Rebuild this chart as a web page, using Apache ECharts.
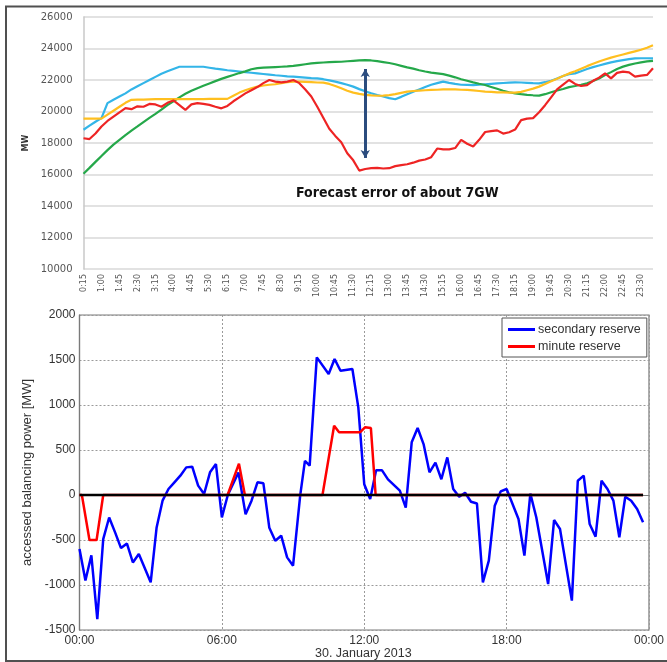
<!DOCTYPE html>
<html>
<head>
<meta charset="utf-8">
<script src="https://cdn.jsdelivr.net/npm/echarts@6/dist/echarts.min.js"></script>
<style>
html,body{margin:0;padding:0;background:#fff;}
#chart{width:667px;height:662px;}
</style>
</head>
<body>
<div id="chart"></div>
<script>
// ---------- Top panel: quarter-hour categories ----------
const topCategories = [
"0:15","0:30","0:45","1:00","1:15","1:30","1:45","2:00","2:15","2:30","2:45","3:00",
"3:15","3:30","3:45","4:00","4:15","4:30","4:45","5:00","5:15","5:30","5:45","6:00",
"6:15","6:30","6:45","7:00","7:15","7:30","7:45","8:00","8:15","8:30","8:45","9:00",
"9:15","9:30","9:45","10:00","10:15","10:30","10:45","11:00","11:15","11:30","11:45","12:00",
"12:15","12:30","12:45","13:00","13:15","13:30","13:45","14:00","14:15","14:30","14:45","15:00",
"15:15","15:30","15:45","16:00","16:15","16:30","16:45","17:00","17:15","17:30","17:45","18:00",
"18:15","18:30","18:45","19:00","19:15","19:30","19:45","20:00","20:15","20:30","20:45","21:00",
"21:15","21:30","21:45","22:00","22:15","22:30","22:45","23:00","23:15","23:30","23:45","24:00"];

const redLine = [
18300,18250,18600,19050,19400,19680,19950,20210,20150,20330,20300,20480,
20450,20300,20550,20700,20400,20100,20450,20530,20480,20420,20300,20200,
20350,20650,20900,21150,21350,21550,21800,22000,21900,21850,21900,22000,
21800,21400,20950,20300,19600,18900,18450,18050,17350,16900,16250,16350,
16400,16420,16380,16400,16530,16600,16650,16750,16880,16950,17100,17650,
17600,17600,17680,18200,17950,17780,18200,18700,18750,18800,18600,18680,
18850,19450,19550,19580,19950,20400,20900,21400,21700,22000,21750,21620,
21680,21950,22150,22420,22100,22450,22530,22480,22210,22280,22320,22740];

const cyanLine = [
18840,19100,19350,19580,20530,20750,20950,21150,21400,21600,21800,22000,
22200,22400,22550,22700,22840,22840,22840,22840,22840,22780,22720,22670,
22620,22580,22540,22500,22460,22420,22380,22340,22300,22270,22230,22210,
22180,22150,22120,22100,22050,21980,21900,21800,21700,21580,21420,21280,
21160,21050,20950,20850,20780,20930,21100,21250,21400,21550,21700,21800,
21900,21820,21750,21700,21690,21680,21700,21730,21760,21790,21810,21830,
21850,21840,21820,21800,21790,21860,21950,22100,22250,22370,22420,22560,
22700,22820,22920,23020,23120,23200,23260,23320,23370,23380,23380,23370];

const yellowLine = [
19550,19550,19550,19550,19800,20050,20300,20550,20740,20750,20760,20770,
20780,20780,20780,20780,20780,20780,20780,20790,20790,20800,20800,20800,
20800,21000,21200,21350,21480,21580,21650,21700,21730,21800,21870,21900,
21900,21880,21860,21840,21830,21750,21620,21470,21320,21200,21120,21060,
21020,21000,21010,21040,21100,21180,21260,21300,21330,21350,21370,21380,
21400,21410,21410,21380,21370,21340,21300,21260,21240,21220,21210,21200,
21200,21250,21350,21450,21580,21740,21920,22080,22250,22420,22560,22720,
22880,23030,23170,23300,23420,23520,23620,23720,23820,23920,24050,24200];

const greenLine = [
16050,16420,16800,17180,17550,17900,18200,18500,18780,19050,19330,19600,
19850,20120,20400,20650,20900,21130,21320,21480,21630,21780,21930,22070,
22200,22320,22440,22550,22680,22750,22780,22800,22820,22840,22860,22900,
22950,23000,23050,23090,23110,23130,23150,23160,23190,23220,23250,23260,
23240,23200,23140,23080,23000,22900,22800,22720,22620,22540,22470,22420,
22370,22280,22170,22050,21950,21850,21760,21680,21560,21440,21320,21220,
21150,21100,21060,21030,21010,21100,21220,21330,21430,21550,21620,21700,
21790,21940,22100,22320,22500,22700,22850,22960,23050,23120,23180,23220];

const arrowCategory = "12:00";
const arrowFrom = 22700;
const arrowTo = 17050;
const annotationText = "Forecast error of about 7GW";

// ---------- Bottom panel: hours of the day ----------
const blueTimes = [0,0.25,0.5,0.75,1,1.25,1.5,1.75,2,2.25,2.5,3,3.25,3.5,3.75,4,4.25,4.5,4.75,5,
5.25,5.5,5.75,6,6.25,6.7,7,7.25,7.5,7.75,8,8.25,8.5,8.75,9,9.3,9.5,9.7,10,10.5,10.75,11,11.5,11.75,
12,12.25,12.5,12.75,13,13.5,13.75,14,14.25,14.5,14.75,15,15.25,15.5,15.75,16,16.25,16.5,16.75,17,
17.25,17.5,17.75,18,18.5,18.75,19,19.25,19.75,20,20.25,20.75,21,21.25,21.5,21.75,22,22.25,22.5,
22.75,23,23.25,23.5,23.75];
const blueValues = [-600,-950,-670,-1380,-490,-250,-415,-590,-540,-750,-656,-970,-360,-63,67,141,215,307,315,104,
11,252,344,-248,0,250,-215,-63,141,130,-365,-508,-452,-693,-785,-7,380,326,1529,1344,1511,1381,1400,974,
120,-45,274,274,174,48,-140,585,744,566,252,360,175,418,66,-19,25,-75,-95,-970,
-730,-119,40,67,-267,-674,15,-248,-989,-278,-378,-1174,159,215,-322,-463,159,67,-63,
-470,-19,-63,-156,-304];

const redTimes = [0,0.1,0.42,0.72,1.0,6.24,6.72,6.97,10.24,10.73,10.94,11.82,12.03,12.28,12.48,23.75];
const redValues = [0,0,-500,-500,0,0,348,0,0,770,696,696,752,744,0,0];

const zeroTimes = [0,23.75];
const zeroValues = [0,0];

const bottomTickLabels = {0:"00:00",6:"06:00",12:"12:00",18:"18:00",24:"00:00"};
const dateLabel = "30. January 2013";
const bottomYName = "accessed balancing power [MW]";

const pair = (t, v) => t.map((x, i) => [x, v[i]]);

const chart = echarts.init(document.getElementById('chart'), null, {renderer:'canvas'});
const dotted = {color:'#9a9a9a', type:[2,2], width:1};

chart.setOption({
  animation:false,
  backgroundColor:'#fff',
  grid:[
    {left:83.5, right:14, top:17, bottom:393},
    {left:79.5, right:15, top:315, bottom:32, show:true, borderColor:'#7a7a7a', borderWidth:1.2, backgroundColor:'transparent'}
  ],
  xAxis:[
    {gridIndex:0, type:'category', data:topCategories, boundaryGap:false,
     axisLine:{show:false}, axisTick:{show:false}, splitLine:{show:false},
     axisLabel:{interval:2, rotate:90, fontSize:8, color:'#555', fontFamily:'DejaVu Sans', margin:5}},
    {gridIndex:1, type:'value', min:0, max:24, interval:6,
     axisLine:{show:true, lineStyle:{color:'#7a7a7a', width:1.2}},
     axisTick:{show:false},
     splitLine:{show:true, lineStyle:dotted},
     axisLabel:{fontSize:12, color:'#333', fontFamily:'Liberation Sans', margin:5,
       formatter:v => bottomTickLabels[v] !== undefined ? bottomTickLabels[v] : ''}}
  ],
  yAxis:[
    {gridIndex:0, type:'value', min:10000, max:26000, interval:2000,
     name:'MW', nameLocation:'middle', nameRotate:90, nameGap:40,
     nameTextStyle:{fontSize:8, fontWeight:'bold', color:'#333', fontFamily:'DejaVu Sans'},
     axisLine:{show:true, lineStyle:{color:'#c8c8c8', width:1.5}},
     axisTick:{show:false},
     splitLine:{show:true, lineStyle:{color:'#d9d9d9', width:1.5}},
     axisLabel:{fontSize:10, color:'#555', fontFamily:'DejaVu Sans', margin:11, formatter:v => String(v)}},
    {gridIndex:1, type:'value', min:-1500, max:2000, interval:500,
     name:bottomYName, nameLocation:'middle', nameRotate:90, nameGap:31,
     nameTextStyle:{fontSize:13, color:'#333', fontFamily:'Liberation Sans'},
     axisLine:{show:true, lineStyle:{color:'#7a7a7a', width:1.2}},
     axisTick:{show:false},
     splitLine:{show:true, lineStyle:dotted},
     axisLabel:{fontSize:12, color:'#333', fontFamily:'Liberation Sans', margin:4, formatter:v => String(v)}}
  ],
  legend:{
    data:['secondary reserve','minute reserve'],
    orient:'vertical', left:502, top:318,
    backgroundColor:'#fff', borderColor:'#555', borderWidth:1,
    padding:[5,6,4,6], itemGap:4, itemWidth:27, itemHeight:3, icon:'rect',
    textStyle:{fontSize:12.5, color:'#333', fontFamily:'Liberation Sans', padding:[0,0,0,-2]}
  },
  series:[
    {type:'line', name:'forecast cyan', xAxisIndex:0, yAxisIndex:0, data:cyanLine, symbol:'none',
     lineStyle:{color:'#33b5e8', width:2.2}, itemStyle:{color:'#33b5e8'}},
    {type:'line', name:'forecast green', xAxisIndex:0, yAxisIndex:0, data:greenLine, symbol:'none',
     lineStyle:{color:'#25a84a', width:2.2}, itemStyle:{color:'#25a84a'}},
    {type:'line', name:'forecast yellow', xAxisIndex:0, yAxisIndex:0, data:yellowLine, symbol:'none',
     lineStyle:{color:'#ffbf1f', width:2.2}, itemStyle:{color:'#ffbf1f'}},
    {type:'line', name:'actual red', xAxisIndex:0, yAxisIndex:0, data:redLine, symbol:'none',
     lineStyle:{color:'#ee2424', width:2.2}, itemStyle:{color:'#ee2424'},
     markLine:{silent:true, symbol:['arrow','arrow'], symbolSize:[7,8],
       lineStyle:{color:'#2b4c7e', width:3, type:'solid'}, label:{show:false},
       data:[[{coord:[arrowCategory, arrowFrom]},{coord:[arrowCategory, arrowTo]}]]}},
    {type:'line', name:'secondary reserve', xAxisIndex:1, yAxisIndex:1, data:pair(blueTimes, blueValues),
     symbol:'none', lineStyle:{color:'#0000ff', width:2.5}, itemStyle:{color:'#0000ff'}},
    {type:'line', name:'minute reserve', xAxisIndex:1, yAxisIndex:1, data:pair(redTimes, redValues),
     symbol:'none', lineStyle:{color:'#ff0000', width:2.5}, itemStyle:{color:'#ff0000'}},
    {type:'line', name:'zero', xAxisIndex:1, yAxisIndex:1, data:pair(zeroTimes, zeroValues),
     symbol:'none', lineStyle:{color:'#000', width:2.5}, itemStyle:{color:'#000'}, z:5}
  ],
  graphic:[
    {type:'text', left:296, top:186, style:{text:annotationText, fill:'#111',
      font:"bold 14px 'Liberation Sans Narrow', 'Arial Narrow', 'DejaVu Sans Condensed', sans-serif"}},
    {type:'text', left:315, top:647, style:{text:dateLabel, fill:'#333',
      font:"12.5px 'Liberation Sans', sans-serif"}},
    {type:'rect', shape:{x:6, y:6.5, width:700, height:654.5}, style:{fill:'none', stroke:'#505050', lineWidth:2}, silent:true, z:100}
  ]
});
</script>
</body>
</html>
